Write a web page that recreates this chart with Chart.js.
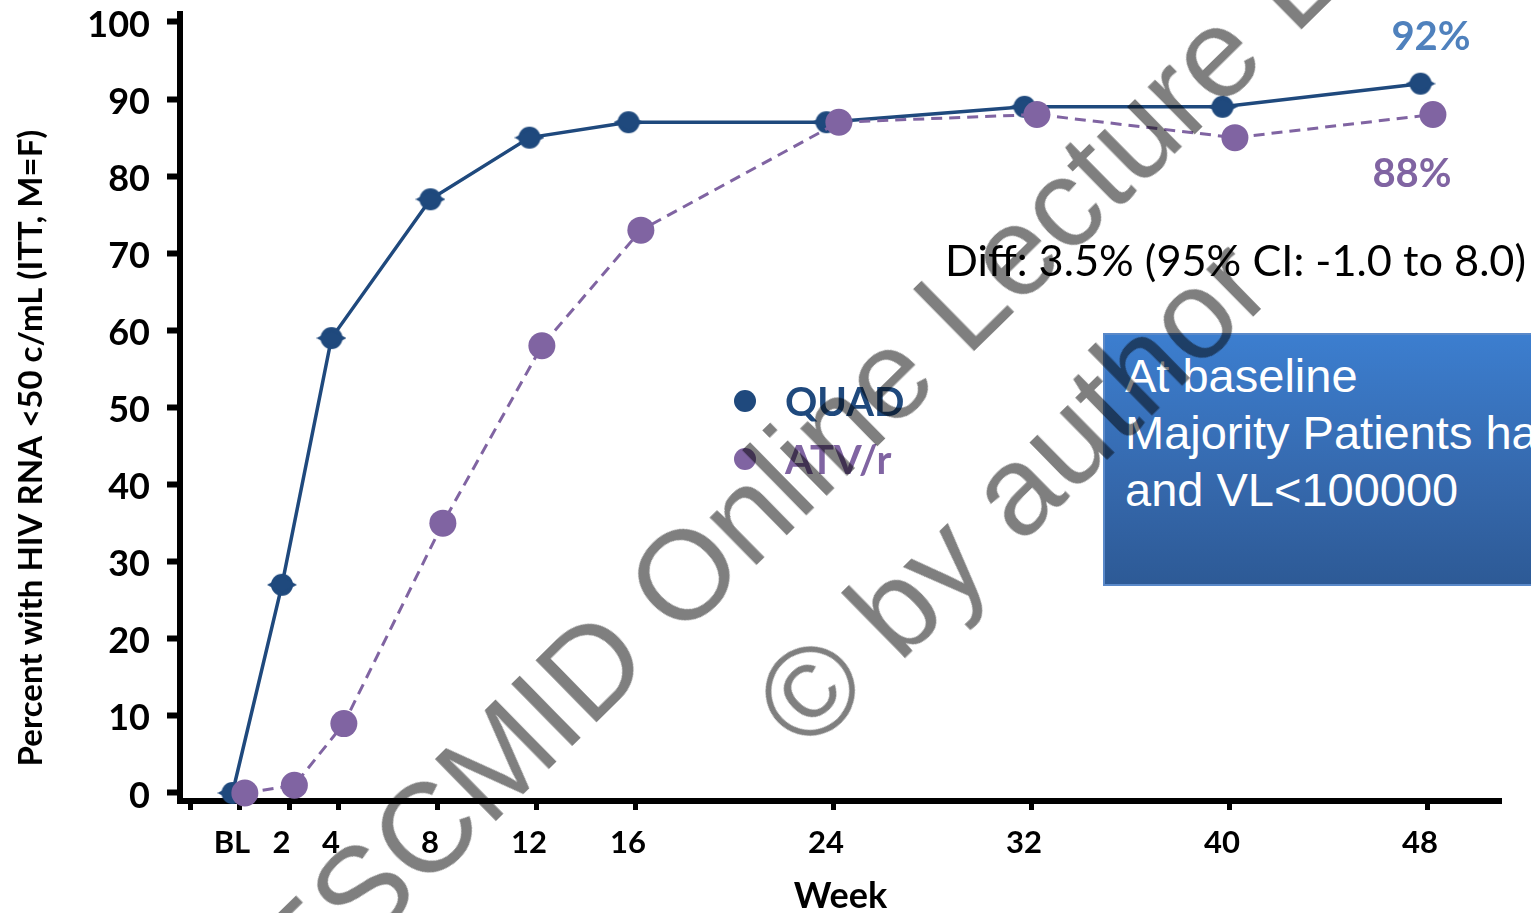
<!DOCTYPE html>
<html>
<head>
<meta charset="utf-8">
<script src="https://cdn.jsdelivr.net/npm/chart.js@4.4.0/dist/chart.umd.min.js"></script>
<style>
  html, body { margin: 0; padding: 0; background: #fff; overflow: hidden; }
  #wrap { position: relative; width: 1531px; height: 913px; overflow: hidden; }
  #chart { position: absolute; left: 0; top: 0; }
  .txt { position: absolute; white-space: nowrap; line-height: 1; font-family: Lato, "Open Sans", sans-serif; }
  .dot { position: absolute; width: 22px; height: 22px; border-radius: 50%; }
  #box {
    position: absolute; left: 1103px; top: 333px; width: 520px; height: 253px;
    border: 2px solid #5a89c9;
    background: linear-gradient(to bottom, #3c7ecf 0%, #3568ac 60%, #2d5a96 100%);
    color: #fff; font-family: "Liberation Sans", Arial, sans-serif; font-size: 47px; line-height: 57px;
    padding: 12px 0 0 20px; box-sizing: border-box; white-space: nowrap;
  }
  #wm {
    position: absolute; width: 2000px; height: 342px; left: -34px; top: 247px;
    font-family: "Liberation Sans", Arial, sans-serif; font-size: 127px; line-height: 171px;
    text-align: center; color: rgba(0, 0, 0, 0.5); white-space: nowrap;
    transform: rotate(-44.5deg); transform-origin: 50% 50%; pointer-events: none;
  }
  #wm span { position: relative; left: -20px; }
</style>
</head>
<body>
<div id="wrap">
  <canvas id="chart" width="1531" height="913"></canvas>

  <div class="dot" style="left:734px; top:390px; background:#1f497d;"></div>
  <div class="txt" style="left:785px; top:401px; transform:translateY(-50%); font-size:40px; font-weight:bold; color:#1f497d;">QUAD</div>
  <div class="dot" style="left:734px; top:448px; background:#8064a2;"></div>
  <div class="txt" style="left:785px; top:459px; transform:translateY(-50%); font-size:40px; font-weight:bold; color:#8064a2;">ATV/r</div>

  <div class="txt" style="left:1431px; top:35px; transform:translate(-50%,-50%); font-size:40px; font-weight:bold; color:#4f81bd;">92%</div>
  <div class="txt" style="left:1412px; top:172px; transform:translate(-50%,-50%); font-size:40px; font-weight:bold; color:#8064a2;">88%</div>

  <div class="txt" style="left:945px; top:260px; transform:translateY(-50%); font-size:43.3px; color:#000;">Diff: 3.5% (95% CI: -1.0 to 8.0)</div>

  <div id="box">At baseline<br>Majority Patients had<br>and VL&lt;100000</div>

  <div id="wm">ESCMID Online Lecture Library<br><span>© by author</span></div>
</div>

<script>
// values
const weekLabels = ["BL", "2", "4", "8", "12", "16", "24", "32", "40", "48"];
const weeks = [0, 2, 4, 8, 12, 16, 24, 32, 40, 48];
const quadValues = [0, 27, 59, 77, 85, 87, 87, 89, 89, 92];
const atvValues = [0, 1, 9, 35, 58, 73, 87, 88, 85, 88];
const yTicks = [0, 10, 20, 30, 40, 50, 60, 70, 80, 90, 100];
const xTicks = [-2, 0, 2, 4, 8, 12, 16, 24, 32, 40, 48];

const quadColor = "#1f497d";
const atvColor = "#8064a2";
// the two series sit slightly apart from each week tick
const quadShift = -0.3;
const atvShift = 0.2;

function quadMarker() {
    const c = document.createElement("canvas");
    c.width = 30;
    c.height = 24;
    const g = c.getContext("2d");
    g.fillStyle = quadColor;
    g.beginPath();
    g.arc(15, 12, 11, 0, Math.PI * 2);
    g.fill();
    g.beginPath();
    g.moveTo(0, 12);
    g.lineTo(15, 4);
    g.lineTo(30, 12);
    g.lineTo(15, 20);
    g.closePath();
    g.fill();
    return c;
}

const yTitle = {
    id: "yTitle",
    afterDraw(chart) {
        const ctx = chart.ctx;
        ctx.save();
        ctx.translate(31, 448);
        ctx.rotate(-Math.PI / 2);
        ctx.font = "bold 33px Lato";
        ctx.fillStyle = "#000";
        ctx.textAlign = "center";
        ctx.textBaseline = "middle";
        ctx.fillText("Percent with HIV RNA <50 c/mL (ITT, M=F)", 0, 0);
        ctx.restore();
    },
};

const ctx = document.getElementById("chart").getContext("2d");

new Chart(ctx, {
    type: "line",
    data: {
        datasets: [
            {
                label: "QUAD",
                data: weeks.map((w, i) => ({ x: w + quadShift, y: quadValues[i] })),
                borderColor: quadColor,
                backgroundColor: quadColor,
                borderWidth: 3.5,
                pointStyle: quadMarker(),
                tension: 0,
                clip: false,
                order: 1,
            },
            {
                label: "ATV/r",
                data: weeks.map((w, i) => ({ x: w + atvShift, y: atvValues[i] })),
                borderColor: atvColor,
                backgroundColor: atvColor,
                borderWidth: 3,
                borderDash: [11, 7],
                pointStyle: "circle",
                pointRadius: 13.5,
                pointBorderWidth: 0,
                tension: 0,
                clip: false,
                order: 0,
            },
        ],
    },
    options: {
        responsive: false,
        animation: false,
        layout: { padding: { top: 2, right: 30, left: 0, bottom: 0 } },
        plugins: {
            legend: { display: false },
            tooltip: { enabled: false },
        },
        scales: {
            x: {
                type: "linear",
                min: -2.42,
                max: 50.95,
                afterBuildTicks: scale => {
                    scale.ticks = xTicks.map(v => ({ value: v }));
                },
                afterFit: scale => {
                    scale.height = 112;
                    scale.paddingLeft = 0;
                    scale.paddingRight = 0;
                },
                border: { display: true, color: "#000", width: 6 },
                grid: {
                    drawOnChartArea: false,
                    drawTicks: true,
                    tickLength: 9,
                    tickWidth: 5,
                    tickColor: "#000",
                },
                ticks: {
                    autoSkip: false,
                    maxRotation: 0,
                    padding: 14,
                    labelOffset: -8,
                    color: "#000",
                    font: { family: "Lato", size: 31, weight: "bold" },
                    callback: value => {
                        const i = weeks.indexOf(value);
                        return i >= 0 ? weekLabels[i] : "";
                    },
                },
                title: {
                    display: true,
                    text: "Week",
                    color: "#000",
                    font: { family: "Lato", size: 36, weight: "bold" },
                    padding: { top: 0, bottom: -5 },
                },
            },
            y: {
                min: -1.04,
                max: 101.1,
                afterBuildTicks: scale => {
                    scale.ticks = yTicks.map(v => ({ value: v }));
                },
                afterFit: scale => {
                    scale.width = 180;
                    scale.paddingTop = 0;
                    scale.paddingBottom = 0;
                },
                border: { display: true, color: "#000", width: 6 },
                grid: {
                    drawOnChartArea: false,
                    drawTicks: true,
                    tickLength: 13,
                    tickWidth: 6,
                    tickColor: "#000",
                },
                ticks: {
                    padding: 17,
                    labelOffset: 3,
                    color: "#000",
                    font: { family: "Lato", size: 36, weight: "bold" },
                },
            },
        },
    },
    plugins: [yTitle],
});
</script>
</body>
</html>
